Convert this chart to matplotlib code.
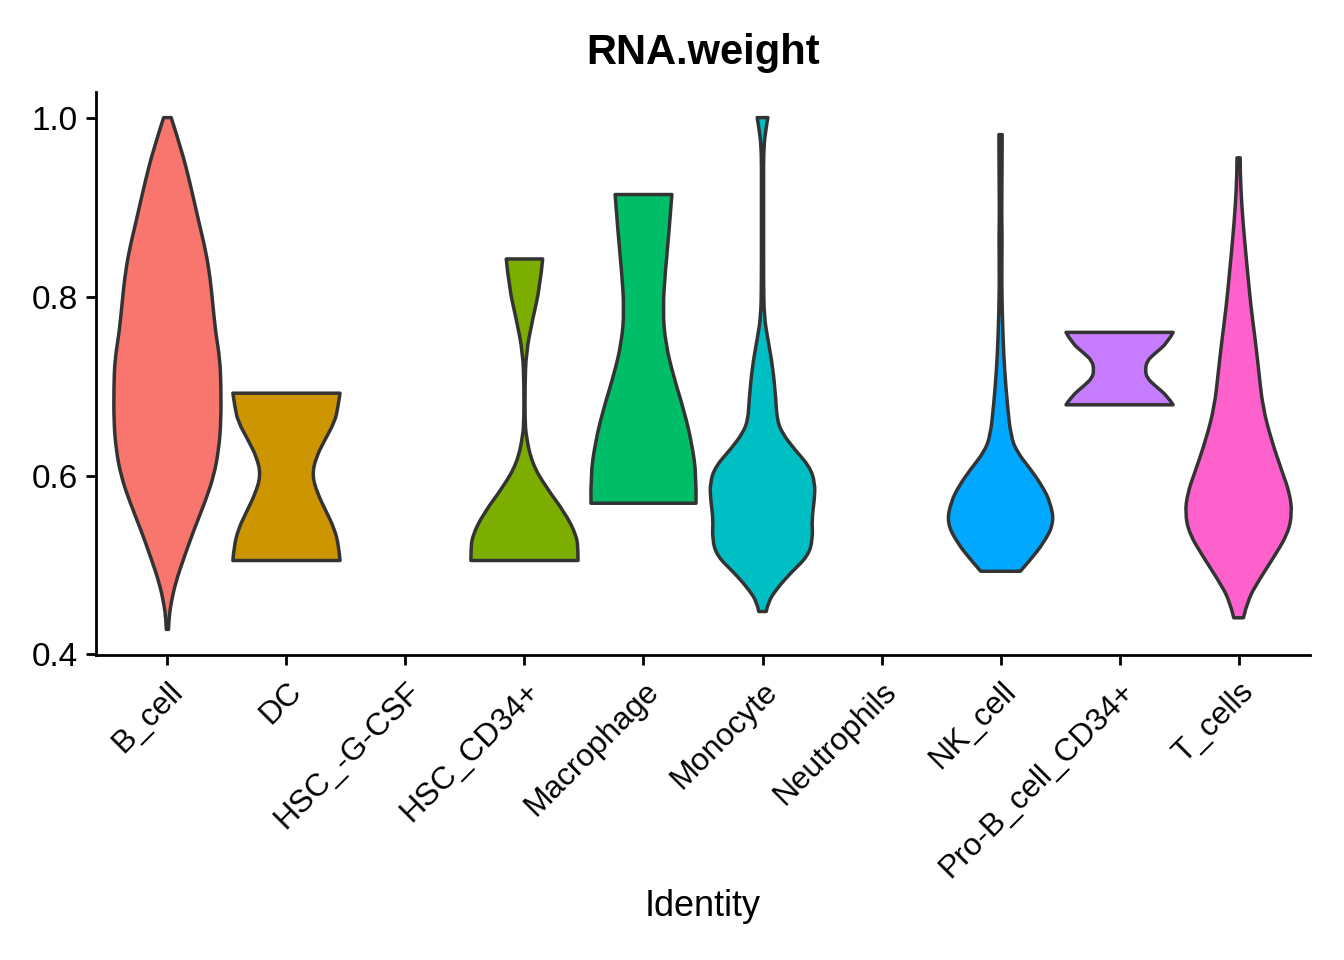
import numpy as np
import matplotlib
matplotlib.use("Agg")
import matplotlib.pyplot as plt
from matplotlib.path import Path
from matplotlib.patches import PathPatch

# Seurat VlnPlot of RNA.weight per identity
identities = ["B_cell", "DC", "HSC_-G-CSF", "HSC_CD34+", "Macrophage",
              "Monocyte", "Neutrophils", "NK_cell", "Pro-B_cell_CD34+", "T_cells"]

# violin outlines: y level -> relative half width (max = 1)
b_cell_y = [1.000, 0.965, 0.925, 0.885, 0.850, 0.820, 0.790, 0.760, 0.730, 0.700,
            0.660, 0.630, 0.600, 0.570, 0.540, 0.510, 0.480, 0.455, 0.440, 0.428]
b_cell_w = [0.07, 0.26, 0.43, 0.58, 0.72, 0.80, 0.85, 0.90, 0.98, 1.00,
            1.00, 0.96, 0.87, 0.70, 0.50, 0.32, 0.15, 0.06, 0.03, 0.02]

dc_y = [0.692, 0.675, 0.660, 0.640, 0.620, 0.600, 0.580, 0.560, 0.540, 0.520, 0.505]
dc_w = [1.00, 0.96, 0.90, 0.72, 0.55, 0.48, 0.58, 0.74, 0.90, 0.98, 1.00]

hsc_cd34_y = [0.842, 0.811, 0.774, 0.737, 0.700, 0.663, 0.644, 0.614, 0.588, 0.558,
              0.532, 0.514, 0.505]
hsc_cd34_w = [0.34, 0.29, 0.15, 0.03, 0.01, 0.01, 0.03, 0.14, 0.39, 0.76,
              0.98, 1.00, 1.00]

macrophage_y = [0.914, 0.867, 0.830, 0.785, 0.748, 0.711, 0.674, 0.637, 0.599, 0.569]
macrophage_w = [0.53, 0.47, 0.41, 0.36, 0.41, 0.56, 0.75, 0.90, 0.99, 0.98]

monocyte_y = [1.000, 0.983, 0.961, 0.927, 0.871, 0.816, 0.778, 0.752, 0.722, 0.685,
              0.663, 0.648, 0.629, 0.610, 0.592, 0.573, 0.551, 0.529, 0.510, 0.492,
              0.473, 0.458, 0.448]
monocyte_w = [0.10, 0.05, 0.02, 0.02, 0.02, 0.02, 0.03, 0.10, 0.19, 0.25,
              0.27, 0.36, 0.60, 0.88, 0.98, 0.97, 0.92, 0.94, 0.85, 0.54,
              0.26, 0.10, 0.07]

nk_cell_y = [0.981, 0.961, 0.886, 0.871, 0.811, 0.755, 0.718, 0.681, 0.644, 0.626,
             0.607, 0.588, 0.570, 0.547, 0.525, 0.506, 0.493]
nk_cell_w = [0.03, 0.03, 0.02, 0.03, 0.02, 0.045, 0.075, 0.125, 0.19, 0.31,
             0.56, 0.78, 0.93, 1.00, 0.81, 0.56, 0.37]

pro_b_y = [0.760, 0.748, 0.737, 0.728, 0.718, 0.709, 0.700, 0.689, 0.679]
pro_b_w = [1.00, 0.89, 0.67, 0.51, 0.48, 0.51, 0.67, 0.89, 1.00]

t_cells_y = [0.955, 0.938, 0.901, 0.864, 0.826, 0.789, 0.752, 0.715, 0.677, 0.640,
             0.603, 0.581, 0.558, 0.535, 0.510, 0.484, 0.461, 0.441]
t_cells_w = [0.03, 0.03, 0.06, 0.11, 0.17, 0.23, 0.31, 0.38, 0.45, 0.61,
             0.82, 0.95, 1.00, 0.92, 0.67, 0.39, 0.17, 0.09]

violins = {
    "B_cell": (b_cell_y, b_cell_w, "#F8766D"),
    "DC": (dc_y, dc_w, "#CD9600"),
    "HSC_CD34+": (hsc_cd34_y, hsc_cd34_w, "#7CAE00"),
    "Macrophage": (macrophage_y, macrophage_w, "#00BE67"),
    "Monocyte": (monocyte_y, monocyte_w, "#00BFC4"),
    "NK_cell": (nk_cell_y, nk_cell_w, "#00A9FF"),
    "Pro-B_cell_CD34+": (pro_b_y, pro_b_w, "#C77CFF"),
    "T_cells": (t_cells_y, t_cells_w, "#FF61CC"),
}


def smooth_side(pts):
    '''quadratic bezier pieces through midpoints, so the outline is not jagged'''
    verts, codes = [], []
    n = len(pts)
    for k in range(1, n - 1):
        mid = (pts[k] + pts[k + 1]) / 2 if k < n - 2 else pts[k + 1]
        verts += [pts[k], mid]
        codes += [Path.CURVE3, Path.CURVE3]
    if n == 2:
        verts.append(pts[1])
        codes.append(Path.LINETO)
    return verts, codes


def violin_path(x0, ys, ws):
    left = [np.array([x0 - w, y]) for y, w in zip(ys, ws)]
    right = [np.array([x0 + w, y]) for y, w in zip(ys, ws)][::-1]
    verts, codes = [left[0]], [Path.MOVETO]
    v, c = smooth_side(left)
    verts += v
    codes += c
    verts.append(right[0])
    codes.append(Path.LINETO)
    v, c = smooth_side(right)
    verts += v
    codes += c
    verts.append(left[0])
    codes.append(Path.CLOSEPOLY)
    return Path(verts, codes)


plt.rcParams['font.family'] = ['Liberation Sans', 'DejaVu Sans']

fig = plt.figure(figsize=(6.72, 4.8), dpi=200)
ax = fig.add_axes([96 / 1344, 1 - 655 / 960, (1310 - 96) / 1344, (655 - 92) / 960])

half = 0.45  # ggplot default violin width 0.9
for i, name in enumerate(identities):
    if name not in violins:
        continue
    ys, ws, col = violins[name]
    ws = np.array(ws) * half
    patch = PathPatch(violin_path(i, ys, ws), facecolor=col, edgecolor="#333333",
                      linewidth=1.25, joinstyle="round", zorder=2)
    ax.add_patch(patch)

ax.set_xlim(-0.6, len(identities) - 0.4)
ax.set_ylim(0.3994, 1.0286)
ax.set_yticks([0.4, 0.6, 0.8, 1.0])
ax.set_yticklabels(["0.4", "0.6", "0.8", "1.0"])
ax.set_xticks(range(len(identities)))

for s in ["top", "right"]:
    ax.spines[s].set_visible(False)
for s in ["left", "bottom"]:
    ax.spines[s].set_linewidth(1.0)
ax.tick_params(axis="both", length=3.5, width=1.0, color="black", labelcolor="black")
ax.tick_params(axis="y", labelsize=12, pad=3)
ax.tick_params(axis="x", labelsize=11.4, pad=4.2)

ax.set_xticklabels(identities, rotation=45, ha="right", va="top",
                   rotation_mode="anchor")

ax.set_title("RNA.weight", fontsize=15, fontweight="bold", pad=10)
ax.set_xlabel("Identity", fontsize=13, labelpad=2.2)

fig.savefig("out.png", dpi=200)
